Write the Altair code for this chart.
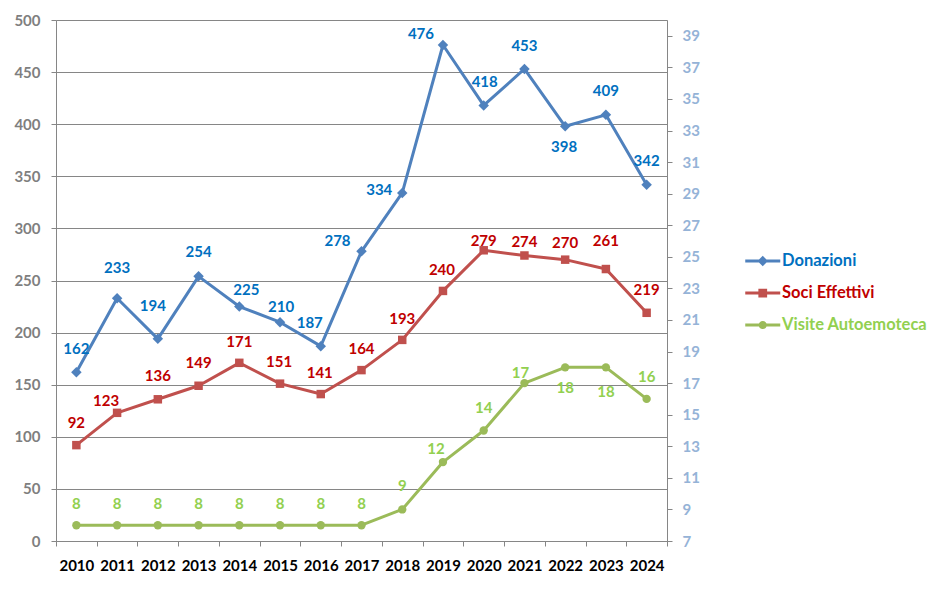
import altair as alt
import pandas as pd

years = [str(y) for y in range(2010, 2025)]
donazioni = [162, 233, 194, 254, 225, 210, 187, 278, 334, 476, 418, 453, 398, 409, 342]
soci = [92, 123, 136, 149, 171, 151, 141, 164, 193, 240, 279, 274, 270, 261, 219]
visite = [8, 8, 8, 8, 8, 8, 8, 8, 9, 12, 14, 17, 18, 18, 16]

series_names = ["Donazioni", "Soci Effettivi", "Visite Autoemoteca"]
line_colors = ["#4F81BD", "#C0504D", "#9BBB59"]
label_colors = ["#0070C0", "#C00000", "#92D050"]

# label nudges (pixels) as placed in the original
don_dx = [0, 0, -5, 0, 7, 1, -11, -24, -23, -22, 1, 0, -1, 0, 0]
don_dy = [-23, -30, -33, -24, -17, -15, -23, -10, -3, -11, -23, -23, 21, -24, -24]
soci_dx = [0, -11, 0, 0, 0, -1, -1, 0, 0, -1, 0, 0, 0, 0, 0]
soci_dy = [-22, -12, -23, -23, -21, -22, -21, -21, -21, -21, -9, -13, -17, -28, -23]
vis_dx = [0, 0, 0, 0, 0, 0, 0, 0, 0, -7, 0, -4, 0, 0, 0]
vis_dy = [-21, -21, -21, -21, -21, -21, -21, -21, -23, -13, -22, -10, 21, 25, -22]

rows = []
for name, vals, dxs, dys in zip(series_names, [donazioni, soci, visite],
                                [don_dx, soci_dx, vis_dx], [don_dy, soci_dy, vis_dy]):
    for yr, v, dx, dy in zip(years, vals, dxs, dys):
        rows.append({"year": yr, "series": name, "value": v, "dx": dx, "dy": dy})
df = pd.DataFrame(rows)

FONT = "Lato"
FS = 15
LEG_FS = 16.5
GRAY = "#868686"

legend_paths = [
    "M-1,-0.17H3V0.17H-1Z M1,-0.6L1.6,0L1,0.6L0.4,0Z",
    "M-1,-0.17H3V0.17H-1Z M0.5,-0.5H1.5V0.5H0.5Z",
    "M-1,-0.17H3V0.17H-1Z M1.47,0A0.47,0.47,0,1,1,0.53,0A0.47,0.47,0,1,1,1.47,0Z",
]

x_enc = alt.X(
    "year:O",
    bandPosition=0.5,
    scale=alt.Scale(type="band", paddingInner=0, paddingOuter=0),
    axis=alt.Axis(title=None, labelAngle=0, tickBand="extent", tickSize=5,
                  tickColor=GRAY, domainColor=GRAY, labelColor="#000000",
                  labelFont=FONT, labelFontSize=FS, labelFontWeight="bold",
                  labelPadding=12, grid=False),
)

y_left = alt.Y(
    "value:Q",
    scale=alt.Scale(domain=[0, 500], nice=False, zero=True),
    axis=alt.Axis(title=None, values=list(range(0, 501, 50)), grid=True,
                  gridColor=GRAY, gridWidth=1, tickSize=5, tickColor=GRAY,
                  domainColor=GRAY, labelColor="#7F7F7F", labelFont=FONT,
                  labelFontSize=FS, labelFontWeight="bold", labelPadding=11),
)

y_right = alt.Y(
    "value:Q",
    scale=alt.Scale(domain=[7, 40], nice=False, zero=False),
    axis=alt.Axis(title=None, orient="right", values=list(range(7, 40, 2)), grid=False,
                  tickSize=5, tickColor=GRAY, domainColor=GRAY, labelColor="#95B3D7",
                  labelFont=FONT, labelFontSize=FS, labelFontWeight="bold",
                  labelPadding=10),
)

fill_enc = alt.Fill("series:N", scale=alt.Scale(domain=series_names, range=label_colors), legend=None)

base = alt.Chart(df)
shapes = ["diamond", "square", "circle"]
sizes = [110, 72, 70]


def series_layers(i, y_enc):
    name = series_names[i]
    flt = f"datum.series == '{name}'"
    sub = base.transform_filter(flt)
    line = sub.mark_line(strokeWidth=3, strokeJoin="round", color=line_colors[i]).encode(
        x=x_enc, y=y_enc)
    pts = sub.mark_point(shape=shapes[i], filled=True, size=sizes[i], opacity=1,
                         color=line_colors[i]).encode(x=x_enc, y=y_enc)
    txt = sub.mark_text(font=FONT, fontSize=FS, fontWeight="bold", baseline="middle",
                        align="center", dx=alt.ExprRef("datum.dx"),
                        dy=alt.ExprRef("datum.dy")).encode(
        x=x_enc, y=y_enc, fill=fill_enc, text="value:Q")
    return [line, pts, txt]


def legend_layer(i):
    name = series_names[i]
    leg = alt.Legend(
        title=None, orient="none", legendX=689, legendY=232 + 32 * i,
        symbolSize=306.25, symbolStrokeWidth=0, symbolOpacity=1, labelOffset=19,
        labelFont=FONT, labelFontSize=LEG_FS, labelFontWeight="bold",
        labelColor=label_colors[i],
    )
    return base.transform_filter(f"datum.series == '{name}'").mark_point(
        filled=True, opacity=0).encode(
        color=alt.Color("series:N", scale=alt.Scale(domain=[name], range=[line_colors[i]]), legend=leg),
        shape=alt.Shape("series:N", scale=alt.Scale(domain=[name], range=[legend_paths[i]]), legend=leg),
    )


left = alt.layer(*series_layers(0, y_left), *series_layers(1, y_left))
right = alt.layer(*series_layers(2, y_right))

chart = alt.layer(
    left, right, legend_layer(0), legend_layer(1), legend_layer(2)
).resolve_scale(y="independent", color="independent", shape="independent").properties(
    width=611, height=521,
    autosize=alt.AutoSizeParams(type="none"),
    padding={"left": 48, "top": 12, "right": 260, "bottom": 40},
).configure_view(stroke=None).configure(background="white")

chart.save("out.html", embed_options={"renderer": "svg", "actions": False})
